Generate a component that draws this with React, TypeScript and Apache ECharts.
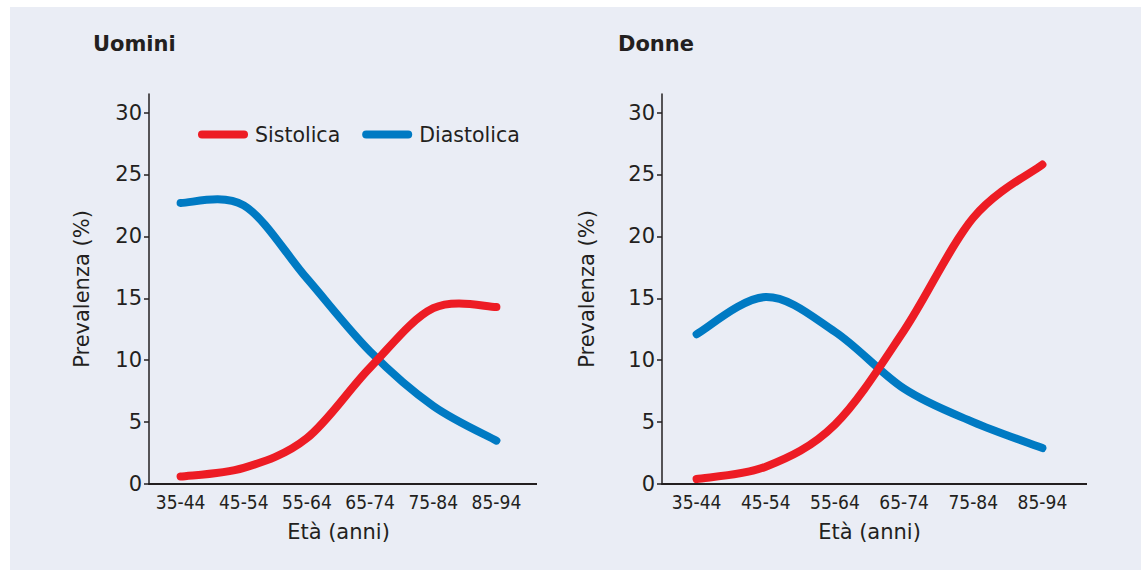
import React, { useEffect, useRef } from "react";
import * as echarts from "echarts";

const ageGroups = ["35-44", "45-54", "55-64", "65-74", "75-84", "85-94"];
const menSystolic = [0.6, 1.3, 3.7, 9.4, 14.2, 14.3];
const menDiastolic = [22.7, 22.5, 16.6, 10.7, 6.3, 3.5];
const womenSystolic = [0.4, 1.4, 4.8, 12.4, 21.5, 25.8];
const womenDiastolic = [12.1, 15.1, 12.3, 7.7, 5.0, 2.9];
const yTicks = [0, 5, 10, 15, 20, 25, 30];
const panelTitles = ["Uomini", "Donne"];
const seriesNames = ["Sistolica", "Diastolica"];

const RED = "#ED1C24";
const BLUE = "#007AC3";
const TEXT = "#231F20";
const AXIS = "#231F20";
const FONT = "DejaVu Sans";

function splinePath(pts: number[][]): string {
  const n = pts.length;
  if (n === 0) return "";
  let d = `M${pts[0][0]},${pts[0][1]}`;
  for (let i = 0; i < n - 1; i++) {
    const p0 = pts[Math.max(i - 1, 0)];
    const p1 = pts[i];
    const p2 = pts[i + 1];
    const p3 = pts[Math.min(i + 2, n - 1)];
    const c1x = p1[0] + (p2[0] - p0[0]) / 6;
    const c1y = p1[1] + (p2[1] - p0[1]) / 6;
    const c2x = p2[0] - (p3[0] - p1[0]) / 6;
    const c2y = p2[1] - (p3[1] - p1[1]) / 6;
    d += ` C${c1x},${c1y} ${c2x},${c2y} ${p2[0]},${p2[1]}`;
  }
  return d;
}

export default function App() {
  const ref = useRef<HTMLDivElement>(null);
  useEffect(() => {
    if (!ref.current) return;
    const chart = echarts.init(ref.current, null, { renderer: "svg" });
    const grids = [
      { left: 149, top: 94, width: 379, height: 390 },
      { left: 662, top: 94, width: 415, height: 390 },
    ];
    const xAxis = grids.map((_, i) => ({
      type: "category",
      gridIndex: i,
      data: ageGroups,
      boundaryGap: true,
      name: "Età (anni)",
      nameLocation: "middle",
      nameGap: 37,
      nameTextStyle: { fontFamily: FONT, fontSize: 21, color: TEXT },
      axisLine: { lineStyle: { color: AXIS, width: 2 } },
      axisTick: { length: 6, lineStyle: { color: AXIS, width: 1.5 } },
      axisLabel: {
        fontFamily: "DejaVu Sans Condensed",
        fontSize: 19,
        color: TEXT,
        margin: 8,
        interval: 0,
      },
    }));
    const yAxis = grids.map((_, i) => ({
      type: "value",
      gridIndex: i,
      min: 0,
      max: 31.5,
      interval: 5,
      name: "Prevalenza (%)",
      nameLocation: "middle",
      nameGap: i === 0 ? 57 : 65,
      nameTextStyle: { fontFamily: FONT, fontSize: 21, color: TEXT },
      splitLine: { show: false },
      axisLine: { show: true, lineStyle: { color: AXIS, width: 1.5 } },
      axisTick: {
        show: true,
        length: 5,
        customValues: yTicks,
        lineStyle: { color: AXIS, width: 1.5 },
      },
      axisLabel: {
        customValues: yTicks,
        fontFamily: FONT,
        fontSize: 21,
        color: TEXT,
        margin: 7,
      },
    }));
    const mk = (name: string, values: number[], color: string, idx: number) => ({
      name,
      type: "custom",
      coordinateSystem: "cartesian2d",
      xAxisIndex: idx,
      yAxisIndex: idx,
      data: values.map((v, i) => [i, v]),
      encode: { x: 0, y: 1 },
      clip: false,
      itemStyle: { color },
      renderItem: (params: any, api: any) => {
        if (params.dataIndex !== 0) return null;
        const pts = values.map((v, i) => api.coord([i, v]));
        return {
          type: "path",
          shape: { pathData: splinePath(pts) },
          style: {
            fill: "none",
            stroke: color,
            lineWidth: 8,
            lineCap: "round",
            lineJoin: "round",
          },
        };
      },
    });
    chart.setOption({
      animation: false,
      backgroundColor: "#ffffff",
      graphic: [
        {
          type: "rect",
          z: -10,
          silent: true,
          shape: { x: 10, y: 7, width: 1131, height: 563 },
          style: { fill: "#EAEDF5" },
        },
        {
          type: "line",
          z: 5,
          shape: { x1: 528, y1: 484, x2: 537, y2: 484 },
          style: { stroke: AXIS, lineWidth: 2 },
        },
        {
          type: "line",
          z: 5,
          shape: { x1: 1077, y1: 484, x2: 1087, y2: 484 },
          style: { stroke: AXIS, lineWidth: 2 },
        },
      ],
      title: [
        {
          text: panelTitles[0],
          left: 88,
          top: 28,
          textStyle: { fontFamily: FONT, fontSize: 21, fontWeight: "bold", color: TEXT },
        },
        {
          text: panelTitles[1],
          left: 613,
          top: 28,
          textStyle: { fontFamily: FONT, fontSize: 21, fontWeight: "bold", color: TEXT },
        },
      ],
      legend: {
        data: seriesNames,
        left: 193,
        top: 119,
        itemWidth: 50,
        itemHeight: 8,
        itemGap: 22,
        icon: "path://M4,0 H46 A4,4 0 0 1 46,8 H4 A4,4 0 0 1 4,0 Z",
        textStyle: { fontFamily: FONT, fontSize: 20.5, color: TEXT, padding: [0, 0, 0, 2] },
      },
      grid: grids,
      xAxis,
      yAxis,
      series: [
        mk(seriesNames[1], menDiastolic, BLUE, 0),
        mk(seriesNames[0], menSystolic, RED, 0),
        mk(seriesNames[1], womenDiastolic, BLUE, 1),
        mk(seriesNames[0], womenSystolic, RED, 1),
      ],
    });
    return () => chart.dispose();
  }, []);
  return (
    <div
      ref={ref}
      style={{ position: "absolute", left: 0, top: 0, width: 1141, height: 570 }}
    />
  );
}
